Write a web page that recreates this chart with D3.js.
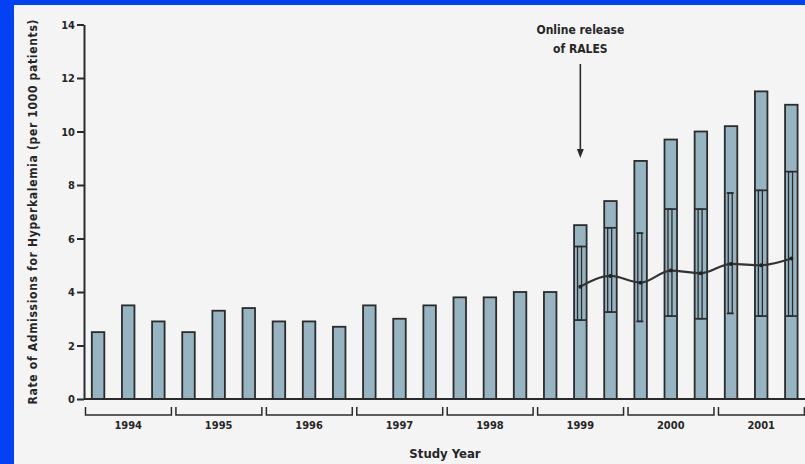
<!DOCTYPE html>
<html>
<head>
<meta charset="utf-8">
<script src="https://cdn.jsdelivr.net/npm/d3@7"></script>
<style>
  html, body { margin: 0; padding: 0; background: #0242f4; }
  svg { display: block; }
  text { font-family: "Liberation Sans Narrow", "DejaVu Sans Condensed", "Arial Narrow", sans-serif; fill: #262626; font-weight: bold; }
</style>
</head>
<body>
<svg id="chart" width="805" height="464"></svg>
<script>
// Study years, each split into three periods
const years = ["1994", "1995", "1996", "1997", "1998", "1999", "2000", "2001"];
const periodsPerYear = 3;

// Observed admission rate for hyperkalemia per 1000 patients, by period
const observedRates = [
  2.5, 3.5, 2.9,
  2.5, 3.3, 3.4,
  2.9, 2.9, 2.7,
  3.5, 3.0, 3.5,
  3.8, 3.8, 4.0,
  4.0, 6.5, 7.4,
  8.9, 9.7, 10.0,
  10.2, 11.5, 11.0
];

// Period index at which RALES was released online
const releasePeriod = 16;

// Expected rates and their 95% interval from the release period onwards
const expectedRates = [4.2, 4.6, 4.35, 4.8, 4.7, 5.05, 5.0, 5.25];
const intervalLower = [2.95, 3.25, 2.9, 3.1, 3.0, 3.2, 3.1, 3.1];
const intervalUpper = [5.7, 6.4, 6.2, 7.1, 7.1, 7.7, 7.8, 8.5];

const yTicks = [0, 2, 4, 6, 8, 10, 12, 14];

const yAxisTitle = "Rate of Admissions for Hyperkalemia (per 1000 patients)";
const xAxisTitle = "Study Year";
const releaseNote = ["Online release", "of RALES"];

const W = 805, H = 464;
const ink = "#2b2b2b";
const barFill = "#97b4c3";

const svg = d3.select("#chart");

// frame: blue edge on the left and top, light panel behind the chart
svg.append("rect").attr("width", W).attr("height", H).attr("fill", "#0242f4");
svg.append("rect").attr("x", 14).attr("y", 5).attr("width", W - 14).attr("height", H - 5).attr("fill", "#f4f4f4");

const nPeriods = observedRates.length;
const x = d3.scaleBand()
  .domain(d3.range(nPeriods))
  .range([83, 806.4])
  .paddingInner(0.585)
  .paddingOuter(0.2925);
const step = x.step();
const cx = i => x(i) + x.bandwidth() / 2;

const y = d3.scaleLinear().domain([0, 14]).range([399, 24.5]);

// bars
svg.append("g")
  .selectAll("rect")
  .data(observedRates)
  .join("rect")
  .attr("x", (d, i) => x(i))
  .attr("y", d => y(d))
  .attr("width", x.bandwidth())
  .attr("height", d => y(0) - y(d))
  .attr("fill", barFill)
  .attr("stroke", ink)
  .attr("stroke-width", 1.8);

// interval whiskers for the post-release periods
const post = expectedRates.map((e, k) => ({
  i: releasePeriod + k,
  exp: e,
  lo: intervalLower[k],
  hi: intervalUpper[k]
}));
const narrowCaps = new Set([18, 21]);
const whiskers = svg.append("g").attr("stroke", ink).attr("stroke-width", 1.3).attr("fill", "none");
post.forEach(p => {
  const c = cx(p.i) - 0.8;
  whiskers.append("rect")
    .attr("x", c - 2)
    .attr("y", y(p.hi))
    .attr("width", 4)
    .attr("height", y(p.lo) - y(p.hi));
  const half = narrowCaps.has(p.i) ? 3.5 : x.bandwidth() / 2;
  const cc = narrowCaps.has(p.i) ? c : cx(p.i);
  [p.hi, p.lo].forEach(v => {
    whiskers.append("line")
      .attr("x1", cc - half).attr("x2", cc + half)
      .attr("y1", y(v)).attr("y2", y(v))
      .attr("stroke-width", 1.7);
  });
});

// expected-rate trend line
const line = d3.line()
  .x(p => cx(p.i))
  .y(p => y(p.exp))
  .curve(d3.curveMonotoneX);
svg.append("path")
  .datum(post)
  .attr("d", line)
  .attr("fill", "none")
  .attr("stroke", "#333")
  .attr("stroke-width", 2.2);
svg.append("g")
  .selectAll("circle")
  .data(post)
  .join("circle")
  .attr("cx", p => cx(p.i))
  .attr("cy", p => y(p.exp))
  .attr("r", 2)
  .attr("fill", "#222");

// y axis
const yAxis = svg.append("g")
  .attr("transform", "translate(84,0)")
  .call(d3.axisLeft(y).tickValues(yTicks).tickSize(7).tickSizeOuter(0).tickPadding(2));
yAxis.select(".domain").attr("stroke", ink).attr("stroke-width", 2);
yAxis.selectAll(".tick line").attr("stroke", ink).attr("stroke-width", 2);
yAxis.selectAll(".tick text")
  .attr("font-size", 11)
  .attr("font-family", "'Liberation Sans Narrow', 'DejaVu Sans Condensed', sans-serif")
  .attr("font-weight", "bold")
  .attr("fill", "#262626");

// x baseline
svg.append("line")
  .attr("x1", 84).attr("x2", W)
  .attr("y1", y(0)).attr("y2", y(0))
  .attr("stroke", ink).attr("stroke-width", 2);

// year brackets under the axis
const brackets = svg.append("g");
years.forEach((yr, k) => {
  const first = k * periodsPerYear;
  const last = first + periodsPerYear - 1;
  const left = cx(first) - step / 2 + 2.5;
  const right = cx(last) + step / 2 - 2;
  brackets.append("path")
    .attr("d", `M${left},407V415H${right}V407`)
    .attr("fill", "none")
    .attr("stroke", ink)
    .attr("stroke-width", 1.5);
  brackets.append("text")
    .attr("x", (cx(first) + cx(last)) / 2)
    .attr("y", 429)
    .attr("text-anchor", "middle")
    .attr("font-size", 11)
    .text(yr);
});

// axis titles
svg.append("text")
  .attr("x", 445)
  .attr("y", 458)
  .attr("text-anchor", "middle")
  .attr("font-size", 13)
  .text(xAxisTitle);

svg.append("text")
  .attr("transform", "translate(37,212) rotate(-90)")
  .attr("text-anchor", "middle")
  .attr("font-size", 12)
  .attr("textLength", 385)
  .attr("lengthAdjust", "spacing")
  .text(yAxisTitle);

// release annotation with arrow
const ax = cx(releasePeriod);
const note = svg.append("text")
  .attr("x", ax)
  .attr("y", 34)
  .attr("text-anchor", "middle")
  .attr("font-size", 12);
note.selectAll("tspan")
  .data(releaseNote)
  .join("tspan")
  .attr("x", ax)
  .attr("dy", (d, i) => i === 0 ? 0 : 19)
  .text(d => d);

svg.append("line")
  .attr("x1", ax).attr("x2", ax)
  .attr("y1", 64).attr("y2", 150)
  .attr("stroke", ink).attr("stroke-width", 1.6);
svg.append("path")
  .attr("d", `M${ax - 3.5},149L${ax + 3.5},149L${ax},158Z`)
  .attr("fill", ink);
</script>
</body>
</html>
